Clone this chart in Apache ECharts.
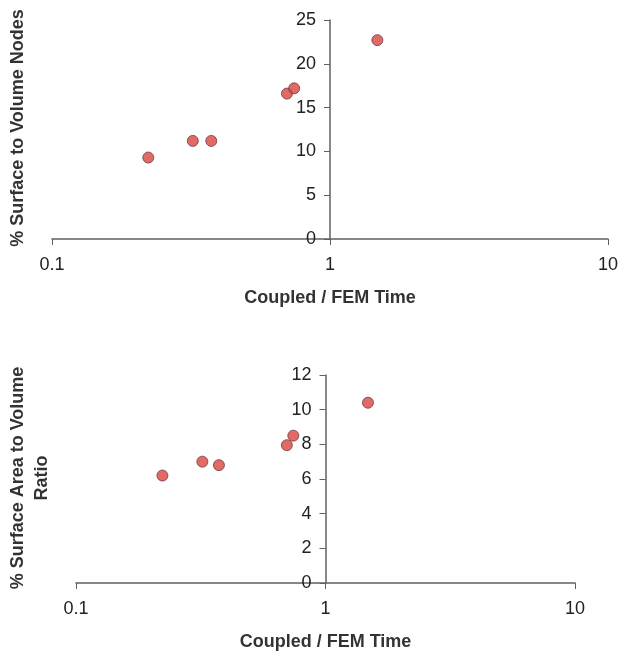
<!DOCTYPE html>
<html><head><meta charset="utf-8">
<script src="https://cdn.jsdelivr.net/npm/echarts@6/dist/echarts.min.js"></script>
<style>html,body{margin:0;padding:0;background:#fff}#c{width:624px;height:660px}</style>
</head><body><div id="c"></div>
<script>
const ratioX = [0.222, 0.321, 0.374, 0.70, 0.743, 1.48];
const nodesPct = [9.3, 11.2, 11.2, 16.6, 17.2, 22.7];
const areaPct = [6.2, 7.0, 6.8, 7.95, 8.5, 10.4];
const xTitle = 'Coupled / FEM Time';
const yTitleTop = '% Surface to Volume Nodes';
const yTitleBottom = '% Surface Area to Volume\nRatio';

const FONT = 'Liberation Sans, Arial, sans-serif';
const axisColor = '#606060';
const textColor = '#222';
const titleColor = '#333';

function xAx(gridIndex) {
  return {
    type: 'log', logBase: 10, min: 0.1, max: 10, gridIndex,
    name: xTitle, nameLocation: 'middle', nameGap: 50,
    nameTextStyle: { fontFamily: FONT, fontSize: 18, fontWeight: 'bold', color: titleColor },
    axisLine: { lineStyle: { color: axisColor, width: 1.5 } },
    axisTick: { show: true, length: 6, lineStyle: { color: axisColor } },
    minorTick: { show: false },
    splitLine: { show: false },
    axisLabel: { fontFamily: FONT, fontSize: 18, color: textColor, margin: 17 }
  };
}
function yAx(gridIndex, max, interval, offset) {
  return {
    type: 'value', min: 0, max, interval, gridIndex, position: 'left', offset,
    axisLine: { show: true, lineStyle: { color: axisColor, width: 1.5 } },
    axisTick: { show: true, length: 6, lineStyle: { color: axisColor } },
    splitLine: { show: false },
    axisLabel: { fontFamily: FONT, fontSize: 18, color: textColor, margin: 14 }
  };
}
const marker = { color: '#d9463c', borderColor: '#6e3a4a', borderWidth: 1 };
const chart = echarts.init(document.getElementById('c'), null, { renderer: 'canvas' });
chart.setOption({
  animation: false,
  backgroundColor: '#fff',
  grid: [
    { left: 52, width: 556, top: 20, height: 219 },
    { left: 76, width: 499, top: 375, height: 208 }
  ],
  xAxis: [xAx(0), xAx(1)],
  yAxis: [yAx(0, 25, 5, -278), yAx(1, 12, 2, -249.5)],
  graphic: [
    { type: 'text', x: 18, y: 128, rotation: Math.PI / 2,
      style: { text: yTitleTop, font: 'bold 18px ' + FONT, fill: titleColor, align: 'center', verticalAlign: 'middle' } },
    { type: 'text', x: 30, y: 478, rotation: Math.PI / 2,
      style: { text: yTitleBottom, font: 'bold 18px ' + FONT, fill: titleColor, align: 'center', verticalAlign: 'middle', lineHeight: 24 } }
  ],
  series: [
    { type: 'scatter', xAxisIndex: 0, yAxisIndex: 0, symbol: 'circle', symbolSize: 11,
      itemStyle: marker, data: ratioX.map((x, i) => [x, nodesPct[i]]) },
    { type: 'scatter', xAxisIndex: 1, yAxisIndex: 1, symbol: 'circle', symbolSize: 11,
      itemStyle: marker, data: ratioX.map((x, i) => [x, areaPct[i]]) }
  ]
});
</script></body></html>
